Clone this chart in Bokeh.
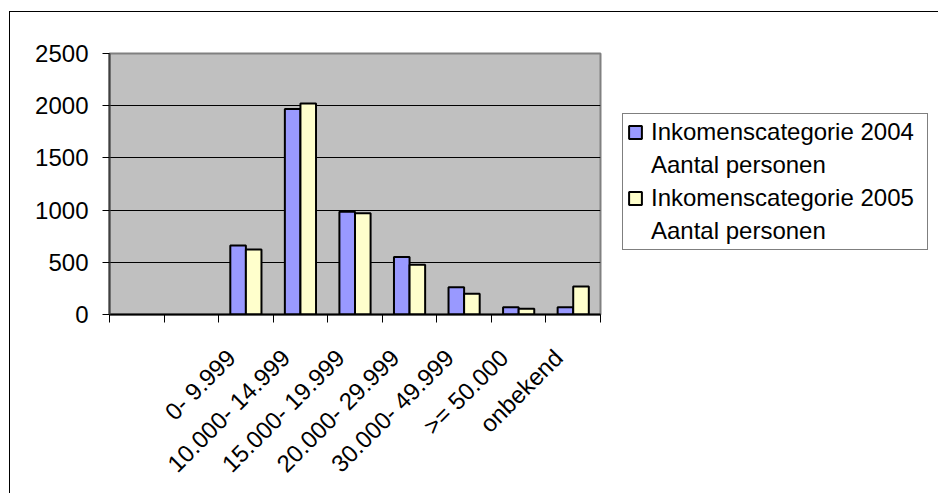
import math
import numpy as np
from bokeh.plotting import figure
from bokeh.models import (ColumnDataSource, FixedTicker, CustomJSTickFormatter,
                          Legend, LegendItem, Range1d)
from bokeh.embed import file_html
from bokeh.resources import INLINE

# ---- data ----
categories = ["", "", "0- 9.999", "10.000- 14.999", "15.000- 19.999",
              "20.000- 29.999", "30.000- 49.999", ">= 50.000", "onbekend"]
values_2004 = [None, None, 662, 1969, 985, 550, 262, 70, 70]
values_2005 = [None, None, 623, 2020, 969, 476, 198, 54, 269]
label_2004 = ["Inkomenscategorie 2004", "Aantal personen"]
label_2005 = ["Inkomenscategorie 2005", "Aantal personen"]
y_ticks = [0, 500, 1000, 1500, 2000, 2500]

FONT = "Liberation Sans"
n = len(categories)
idx = np.arange(n)
bar_w = 1 / 3.5  # Excel gap width 150%

def to_arr(v):
    return np.array([np.nan if x is None else x for x in v], dtype=float)

src = ColumnDataSource(dict(
    x04=idx + 0.5 - bar_w / 2,
    x05=idx + 0.5 + bar_w / 2,
    v04=to_arr(values_2004),
    v05=to_arr(values_2005),
))

p = figure(frame_width=491, frame_height=261, output_backend="svg", toolbar_location=None,
           x_range=Range1d(0, n), y_range=Range1d(0, 2500),
           min_border_left=99, min_border_right=0,
           min_border_top=41, min_border_bottom=179,
           background_fill_color="#C0C0C0", border_fill_color="white")
p.styles = {"border-left": "1px solid black", "border-top": "1px solid black",
            "margin-left": "9px", "margin-top": "11px"}

r04 = p.vbar(x="x04", top="v04", width=bar_w, source=src,
             fill_color="#9999FF", line_color="black", line_width=2)
r05 = p.vbar(x="x05", top="v05", width=bar_w, source=src,
             fill_color="#FFFFCC", line_color="black", line_width=2)

p.outline_line_color = "#808080"
p.outline_line_width = 2
p.xgrid.visible = False
p.ygrid.grid_line_color = "black"
p.ygrid.grid_line_width = 1
p.ygrid.ticker = FixedTicker(ticks=y_ticks)

# y axis
p.yaxis.ticker = FixedTicker(ticks=y_ticks)
p.yaxis.minor_tick_line_color = None
p.yaxis.major_tick_out = 7
p.yaxis.major_tick_in = 0
p.yaxis.major_label_standoff = 14
p.yaxis.axis_line_color = "#404040"
p.yaxis.axis_line_width = 2
p.yaxis.major_label_text_font = FONT
p.yaxis.major_label_text_font_size = "24px"
p.yaxis.major_label_text_color = "black"

# x axis: rotated labels anchored a little left of each category centre,
# tick marks at category boundaries
p.xaxis.ticker = FixedTicker(ticks=list(idx + 0.23), minor_ticks=list(range(n + 1)))
p.xaxis.formatter = CustomJSTickFormatter(args=dict(labels=categories),
                                          code="return labels[Math.floor(tick)];")
p.xaxis.major_tick_line_color = None
p.xaxis.minor_tick_line_color = "black"
p.xaxis.minor_tick_out = 8
p.xaxis.minor_tick_in = 0
p.xaxis.axis_line_color = "black"
p.xaxis.axis_line_width = 2
p.xaxis.major_label_orientation = math.pi / 4
p.xaxis.major_label_standoff = 31
p.xaxis.major_label_text_font = FONT
p.xaxis.major_label_text_font_size = "24px"
p.xaxis.major_label_text_color = "black"

legend = Legend(items=[LegendItem(label=label_2004[0], renderers=[r04]),
                       LegendItem(label=label_2004[1], renderers=[]),
                       LegendItem(label=label_2005[0], renderers=[r05]),
                       LegendItem(label=label_2005[1], renderers=[])],
                location=(22, 64))
legend.border_line_color = "black"
legend.border_line_width = 1
legend.background_fill_color = "white"
legend.background_fill_alpha = 1
legend.label_text_font = FONT
legend.label_text_font_size = "24px"
legend.label_text_color = "black"
legend.label_height = 28
legend.label_width = 272
legend.glyph_width = 16
legend.glyph_height = 16
legend.label_standoff = 8
legend.padding = 4
legend.spacing = 5
legend.margin = 0
p.add_layout(legend, "right")

open("out.html", "w").write(file_html(p, INLINE))
